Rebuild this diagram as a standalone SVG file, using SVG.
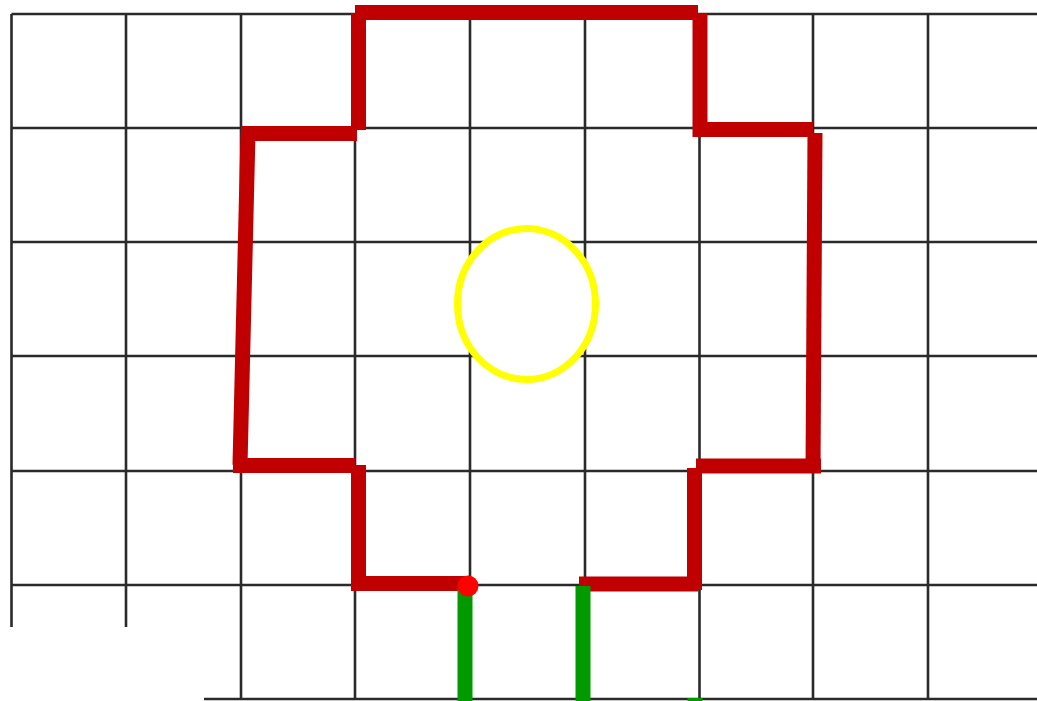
<svg xmlns="http://www.w3.org/2000/svg" width="1037" height="701" viewBox="0 0 1037 701">
<style>
.g{stroke:#2a2a2a;stroke-width:2.6;fill:none}
.r{stroke:#c00000;stroke-width:15;fill:none;stroke-linecap:butt}
.gr{stroke:#009900;stroke-width:15;fill:none}
</style>
<rect width="1037" height="701" fill="#ffffff"/>
<g id="grid">
<path class="g" d="M11.5,14H1037M11.5,128H1037M11.5,242H1037M11.5,356H1037M11.5,471H1037M11.5,585H1037M11.5,699H1037"/>
<path class="g" d="M11.5,14V699M126,14V699M241,14V699M355,14V699M470,14V699M585,14V699M699.5,14V699M813,14V699M928,14V699"/>
<rect x="0" y="627" width="204" height="74" fill="#ffffff"/>
</g>
<g id="connectors">
<line class="r" x1="355" y1="12.5" x2="698" y2="12.5"/>
<line class="r" x1="358.5" y1="13" x2="358.5" y2="130"/>
<line class="r" x1="241" y1="133.5" x2="357" y2="133.5"/>
<line class="r" x1="248" y1="133" x2="240" y2="465"/>
<line class="r" x1="233" y1="465.5" x2="355" y2="465.5"/>
<line class="r" x1="358.5" y1="465" x2="358.5" y2="591"/>
<line class="r" x1="355" y1="583.5" x2="468" y2="583.5"/>
<line class="r" x1="579" y1="584" x2="698" y2="584"/>
<line class="r" x1="694.5" y1="468" x2="694.5" y2="590"/>
<line class="r" x1="696" y1="466" x2="821" y2="466"/>
<line class="r" x1="815" y1="133" x2="813" y2="473"/>
<line class="r" x1="695" y1="129.5" x2="813" y2="129.5"/>
<line class="r" x1="700" y1="13" x2="700" y2="137"/>
<line class="gr" x1="465" y1="588" x2="465" y2="701"/>
<line class="gr" x1="583" y1="586" x2="583" y2="701"/>
<line class="gr" x1="695" y1="698" x2="695" y2="701"/>
</g>
<g id="dot"><circle cx="468" cy="586" r="10.5" fill="#ff0000"/></g>
<g id="ellipse"><ellipse cx="526.5" cy="304" rx="69" ry="75.5" fill="#ffffff" stroke="#ffff00" stroke-width="7"/></g>
</svg>
